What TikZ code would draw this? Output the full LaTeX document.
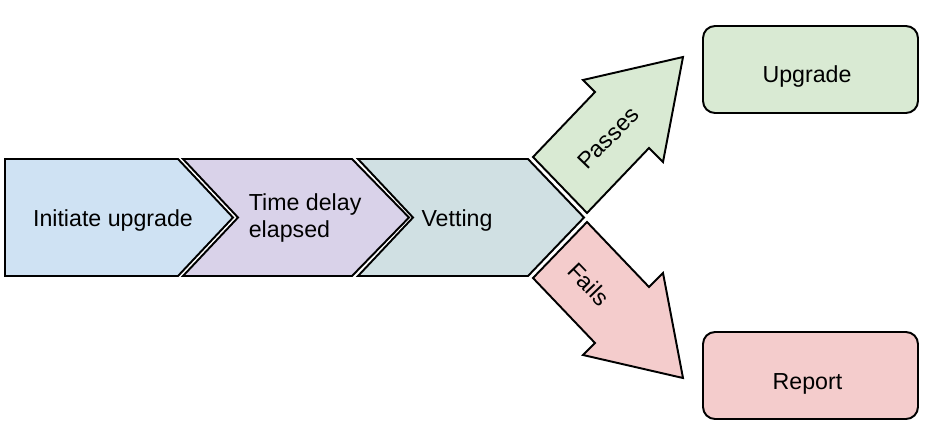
\documentclass[tikz,border=0pt]{standalone}
\usepackage{fontspec}
\setmainfont{Liberation Sans}
\usepackage{tikz}
\usetikzlibrary{arrows.meta}

\definecolor{initblue}{HTML}{CFE2F3}
\definecolor{delaypurple}{HTML}{D9D2E9}
\definecolor{vetcyan}{HTML}{D0E0E3}
\definecolor{passgreen}{HTML}{D9EAD3}
\definecolor{failred}{HTML}{F4CCCC}

\begin{document}
\begin{tikzpicture}[x=0.02cm, y=-0.02cm, line join=miter,
    lbl/.style={font=\fontsize{13.2}{15.4}\selectfont, inner sep=0pt},
    blk/.style={draw=black, line width=1.1pt},
    box/.style={draw=black, line width=1.1pt, rounded corners=0.24cm, minimum width=4.3cm, minimum height=1.74cm}]
%\tikzstyle{chev}=[draw=black,fill=initblue]
\useasboundingbox (0,0) rectangle (937,437);
\begin{scope}
    \draw[blk, fill=initblue] (5,159) -- (178,159) -- (233,217.5) -- (178,276) -- (5,276) -- cycle;
    \draw[blk, fill=delaypurple] (183,159) -- (352,159) -- (409,217.5) -- (352,276) -- (183,276) -- (238,217.5) -- cycle;
    \draw[blk, fill=vetcyan] (358,159) -- (528,159) -- (584,217.5) -- (528,276) -- (358,276) -- (413,217.5) -- cycle;

    \node[lbl, anchor=base] (init) at (113,226.5) {Initiate upgrade};
    \node[lbl, anchor=west, align=left] (delay) at (248.5,217.7) {Time delay\\elapsed};
    \node[lbl, anchor=base] (vet) at (457,226.7) {Vetting};
\end{scope}
\begin{scope}
    \draw[blk, fill=passgreen] (533,157) -- (595,92) -- (583,80) -- (683,57) -- (663,162) -- (649,148) -- (587,213) -- cycle;
    \draw[blk, fill=failred] (533,278) -- (595,343) -- (583,355) -- (683,378) -- (663,273) -- (649,287) -- (587,222) -- cycle;

    \node[lbl, rotate=46] (passes) at (608,138) {Passes};
    \node[lbl, rotate=-46] (fails) at (589,284) {Fails};
\end{scope}
\begin{scope}
    \node[box, fill=passgreen] (upgrade) at (810.5,69.5) {};
    \node[box, fill=failred] (report) at (810.5,375.5) {};

    \node[lbl, anchor=base] (upgradetxt) at (807,82.7) {Upgrade};
    \node[lbl, anchor=base] (reporttxt) at (807.5,389) {Report};
\end{scope}
\end{tikzpicture}
\end{document}
